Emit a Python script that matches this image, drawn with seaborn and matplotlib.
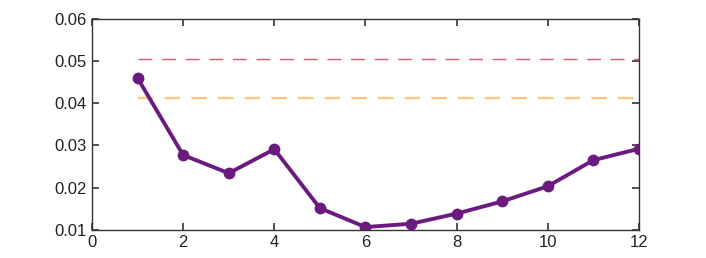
import numpy as np
import pandas as pd
import matplotlib
matplotlib.use("Agg")
import matplotlib.pyplot as plt
import seaborn as sns

# data
x_vals = [1, 2, 3, 4, 5, 6, 7, 8, 9, 10, 11, 12]
y_vals = [0.0460, 0.0277, 0.0234, 0.0291, 0.0151, 0.0106,
          0.0114, 0.0138, 0.0167, 0.0203, 0.0265, 0.0292]
red_level = 0.0505
orange_level = 0.0413

df = pd.DataFrame({"x": x_vals, "y": y_vals})

sns.set_style("ticks")
plt.rcParams["font.family"] = ["Liberation Sans", "DejaVu Sans"]

fig = plt.figure(figsize=(7.06, 2.58), dpi=100)
ax = fig.add_axes([0.1303, 0.110, 0.7747, 0.816])

ax.plot([x_vals[0], x_vals[-1]], [red_level, red_level],
        color="#d65a6c", lw=1.0, dashes=(10, 7))
ax.plot([x_vals[0], x_vals[-1]], [orange_level, orange_level],
        color="#ffc482", lw=1.6, dashes=(7, 5))

sns.lineplot(data=df, x="x", y="y", ax=ax, color="#6b1b7f", lw=2.8,
             marker="o", markersize=8.5, markeredgewidth=0)

ax.set_xlim(0, 12)
ax.set_ylim(0.01, 0.06)
ax.set_xticks([0, 2, 4, 6, 8, 10, 12])
ax.set_yticks([0.01, 0.02, 0.03, 0.04, 0.05, 0.06])
ax.set_yticklabels(["0.01", "0.02", "0.03", "0.04", "0.05", "0.06"])
ax.set_xlabel("")
ax.set_ylabel("")
ax.xaxis.set_ticks_position("both")
ax.yaxis.set_ticks_position("both")
ax.tick_params(axis="both", which="major", direction="in", length=5,
               width=1.1, color="#222222", labelcolor="#222222",
               labelsize=12, pad=4)
for s in ax.spines.values():
    s.set_visible(True)
    s.set_color("#333333")
    s.set_linewidth(1)

fig.savefig("out.png", dpi=100)
